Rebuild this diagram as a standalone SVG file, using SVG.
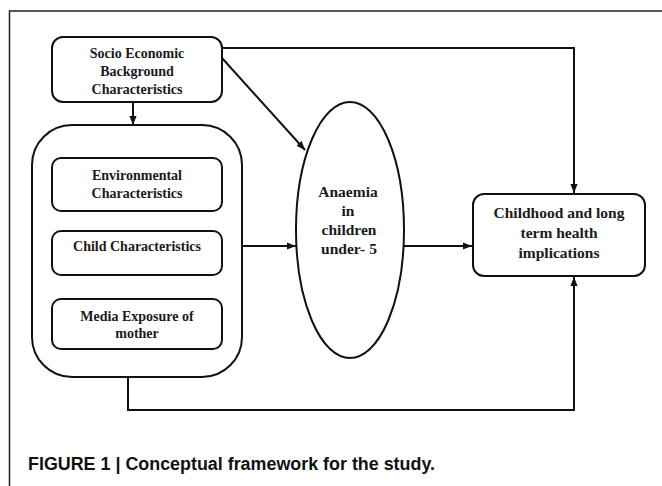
<svg xmlns="http://www.w3.org/2000/svg" width="662" height="486" viewBox="0 0 662 486">
<defs>
<style>
.box{fill:#fff;stroke:#111;stroke-width:2}
.t{font-family:"Liberation Serif","Times New Roman",serif;font-weight:bold;font-size:14px;fill:#1a1a1a;text-anchor:middle}
.tl{font-size:15.5px}
.c{fill:none;stroke:#111;stroke-width:2}
.cap{font-family:"Liberation Sans",Arial,sans-serif;font-weight:bold;font-size:18px;fill:#111}
</style>
<marker id="ah" viewBox="0 0 10 10" refX="10" refY="5" markerWidth="9" markerHeight="9" markerUnits="userSpaceOnUse" orient="auto">
<path d="M0,1 L10,5 L0,9 Z" fill="#111"/>
</marker>
</defs>
<rect width="662" height="486" fill="#fff"/>
<path d="M9.5,486 V11 H662" fill="none" stroke="#222" stroke-width="1.5"/>
<g id="connectors">
<path class="c" d="M222,48 H574 V193" marker-end="url(#ah)"/>
<path class="c" d="M222,58 L305,150" marker-end="url(#ah)"/>
<path class="c" d="M133,102 V125" marker-end="url(#ah)"/>
<path class="c" d="M242,246 H296" marker-end="url(#ah)"/>
<path class="c" d="M403,246 H472" marker-end="url(#ah)"/>
<path class="c" d="M128,377 V410 H574 V277" marker-end="url(#ah)"/>
</g>
<g id="socio">
<rect class="box" x="52" y="37" width="170" height="65" rx="11"/>
<text class="t" x="137" y="58">Socio Economic</text>
<text class="t" x="137" y="76">Background</text>
<text class="t" x="137" y="94">Characteristics</text>
</g>
<g id="group">
<rect class="box" x="32" y="125" width="210" height="252" rx="40"/>
</g>
<g id="environmental">
<rect class="box" x="52" y="158" width="170" height="53" rx="9"/>
<text class="t" x="137" y="180">Environmental</text>
<text class="t" x="137" y="198">Characteristics</text>
</g>
<g id="child">
<rect class="box" x="52" y="231" width="170" height="44" rx="9"/>
<text class="t" x="137" y="251">Child Characteristics</text>
</g>
<g id="media">
<rect class="box" x="52" y="299" width="170" height="50" rx="9"/>
<text class="t" x="137" y="321">Media Exposure of</text>
<text class="t" x="137" y="338">mother</text>
</g>
<g id="anaemia">
<ellipse class="box" cx="350" cy="230" rx="54" ry="128"/>
<text class="t tl" x="348" y="197">Anaemia</text>
<text class="t tl" x="348" y="216">in</text>
<text class="t tl" x="349" y="235">children</text>
<text class="t tl" x="349" y="254">under- 5</text>
</g>
<g id="outcome">
<rect class="box" x="473" y="194" width="172" height="82" rx="11"/>
<text class="t tl" x="559" y="218">Childhood and long</text>
<text class="t tl" x="559" y="238">term health</text>
<text class="t tl" x="559" y="258">implications</text>
</g>
<text class="cap" x="28" y="470" textLength="407" lengthAdjust="spacingAndGlyphs">FIGURE 1 | Conceptual framework for the study.</text>
</svg>
